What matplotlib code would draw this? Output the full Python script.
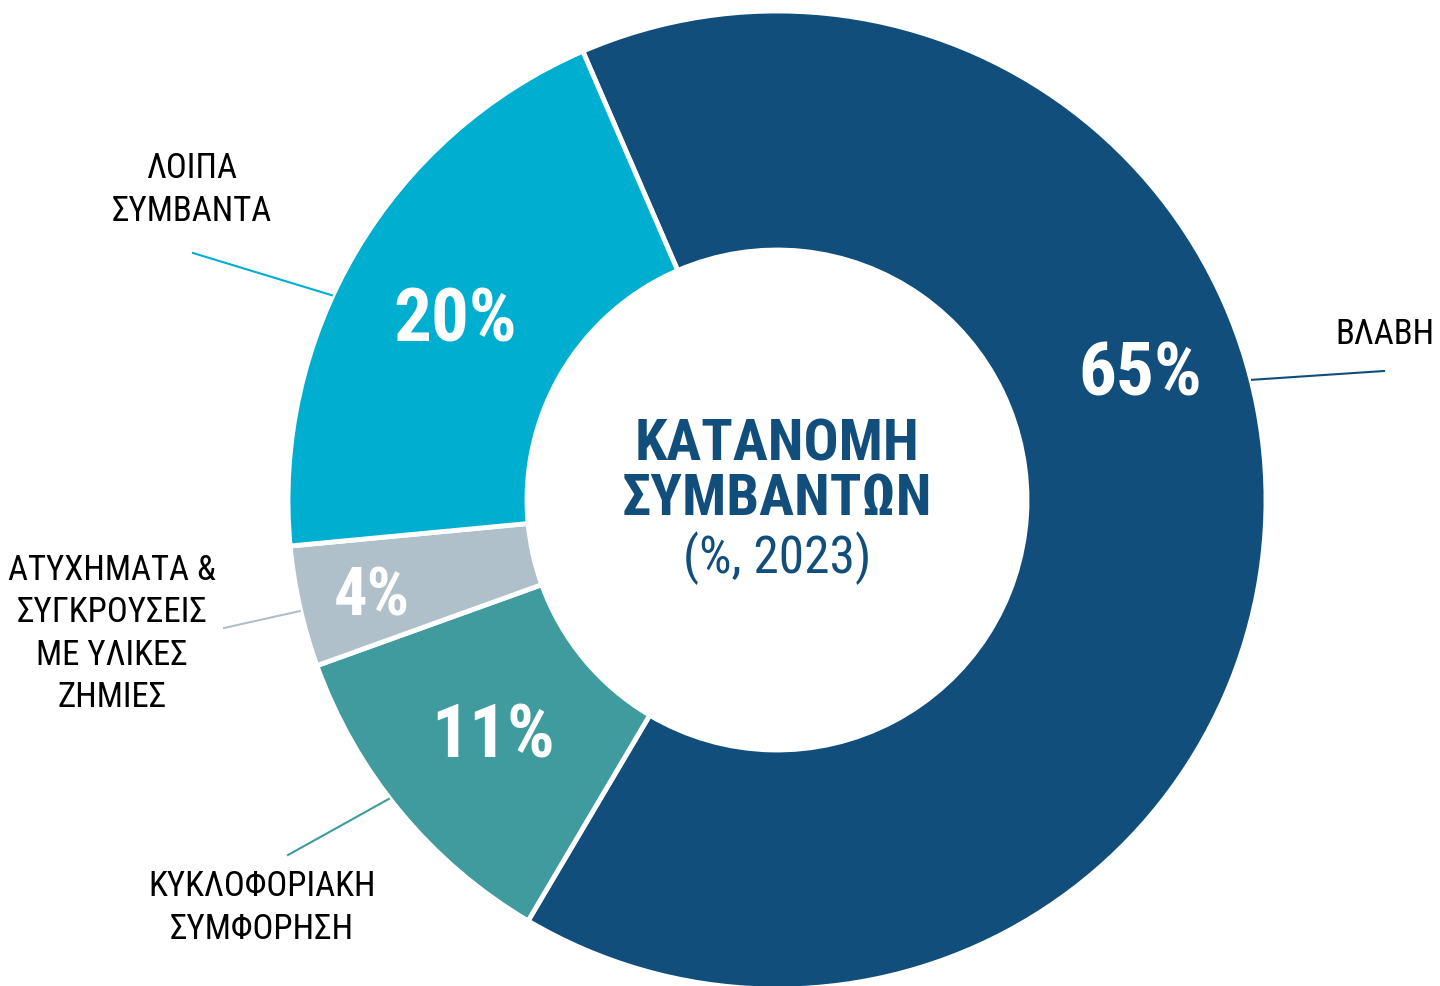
import numpy as np
import matplotlib
matplotlib.use("Agg")
from matplotlib import pyplot as plt

# Данные
labels = ["ΒΛΑΒΗ", "ΚΥΚΛΟΦΟΡΙΑΚΗ\nΣΥΜΦΟΡΗΣΗ", "ΑΤΥΧΗΜΑΤΑ &\nΣΥΓΚΡΟΥΣΕΙΣ\nΜΕ ΥΛΙΚΕΣ\nΖΗΜΙΕΣ", "ΛΟΙΠΑ\nΣΥΜΒΑΝΤΑ"]
values = [65, 11, 4, 20]
pct_text = ["65%", "11%", "4%", "20%"]
colors = ["#124E7C", "#3F9B9E", "#AFC0CA", "#00AFCF"]

plt.rcParams['font.family'] = ["Roboto Condensed", "DejaVu Sans"]

W, H = 1440, 986
fig = plt.figure(figsize=(W / 100, H / 100), dpi=100)
ax = fig.add_axes([0, 0, 1, 1])

cx, cy = 777, 486
R = 489
ax.pie(values, colors=colors, startangle=113.4, counterclock=False,
       radius=R, center=(cx, cy), frame=True,
       wedgeprops=dict(width=239, edgecolor="white", linewidth=3.5))
ax.set_xlim(0, W)
ax.set_ylim(0, H)
ax.set_aspect("equal")
ax.axis("off")

# Подписи процентов (позиции)
pct_pos = [(1140, 611), (455, 664), (372, 389), (493, 249)]
pct_size = [54, 54, 48, 54]
pct_pos = [pct_pos[0], pct_pos[3], pct_pos[2], pct_pos[1]]
for t, (x, y), s in zip(pct_text, pct_pos, pct_size):
    ax.text(x, y, t, ha="center", va="center", color="white",
            fontsize=s, fontweight="bold")

# Выноски: угол на внешнем радиусе, конец линии, позиция текста, выравнивание
leaders = [
    (14.2, (1384, 615), (1434, 652), "right"),
    (217.6, (288, 131), (262, 78), "center"),
    (193.1, (224, 358), (112, 352), "center"),
    (155.3, (193, 733), (192, 796), "center"),
]
for lab, col, (ang, end, tpos, ha) in zip(labels, colors, leaders):
    a = np.deg2rad(ang)
    x0, y0 = cx + (R + 1) * np.cos(a), cy + (R + 1) * np.sin(a)
    ax.plot([x0, end[0]], [y0, end[1]], color=col, linewidth=1.5)
    ax.text(tpos[0], tpos[1], lab, ha=ha, va="center", color="black",
            fontsize=25, linespacing=1.36, multialignment="center")

# Текст в центре
ax.text(cx, 514, "ΚΑΤΑΝΟΜΗ\nΣΥΜΒΑΝΤΩΝ", ha="center", va="center", color="#124E7C",
        fontsize=42, fontweight="bold", linespacing=0.98, multialignment="center")
ax.text(cx, 413, "(%, 2023)", ha="center", va="baseline", color="#124E7C",
        fontsize=37)

fig.savefig("out.png", dpi=100, facecolor="white")
